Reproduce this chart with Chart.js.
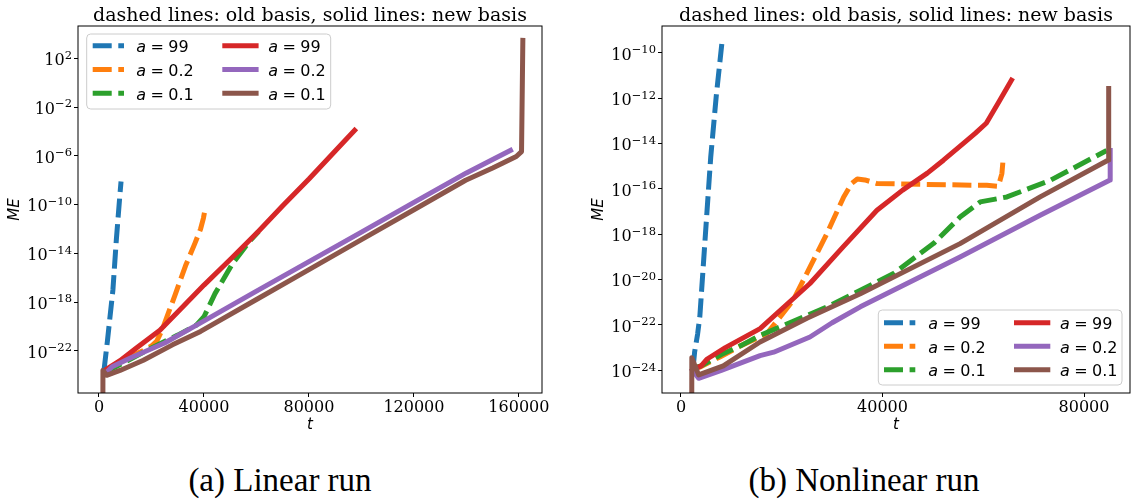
<!DOCTYPE html>
<html>
<head>
<meta charset="utf-8">
<script src="https://cdn.jsdelivr.net/npm/chart.js@4/dist/chart.umd.min.js"></script>
<style>
html,body{margin:0;padding:0;background:#fff;}
#wrap{position:relative;width:1134px;height:501px;overflow:hidden;background:#fff;}
#c1{position:absolute;left:0;top:0;}
#c2{position:absolute;left:560px;top:0;}
.cap{position:absolute;top:464px;font-family:"Liberation Serif",serif;font-size:33px;line-height:33px;white-space:nowrap;transform:translateX(-50%);color:#000;}
</style>
</head>
<body>
<div id="wrap">
<canvas id="c1" width="560" height="440"></canvas>
<canvas id="c2" width="574" height="440"></canvas>
<div class="cap" style="left:280px">(a) Linear run</div>
<div class="cap" style="left:864px">(b) Nonlinear run</div>
</div>
<script>
// ---------- shared text / labels ----------
const titleText = 'dashed lines: old basis, solid lines: new basis';
const aLabels = ['99', '0.2', '0.1'];
const colorsOld = ['#1f77b4', '#ff7f0e', '#2ca02c'];
const colorsNew = ['#d62728', '#9467bd', '#8c564b'];
const ZERO_LOG = -300; // ME = 0 at the first sample (drawn clipped below the axis)

// ---------- (a) Linear run : t values and log10(ME) ----------
const linTicksX = [0, 40000, 80000, 120000, 160000];
const linTicksYExp = [2, -2, -6, -10, -14, -18, -22];

const linOldA99T   = [1900, 3200, 5300, 6600, 8000, 8400];
const linOldA99Log = [-23.6, -21.2, -17.0, -12.9, -9.1, -8.1];

const linOldA02T   = [2000, 10000, 17000, 20000, 22000, 24000, 29000, 33000, 36500, 38700, 39800, 40400];
const linOldA02Log = [-23.7, -22.65, -21.95, -21.6, -21.2, -20.3, -17.4, -15.0, -13.2, -12.0, -11.1, -10.4];

const linOldA01T   = [2000, 10000, 20000, 30000, 37000, 40000, 44200, 51000, 57800, 60800];
const linOldA01Log = [-23.8, -22.9, -21.75, -20.7, -19.9, -19.2, -17.3, -14.8, -12.9, -12.2];

const linNewA99T   = [2900, 8000, 14000, 23200, 30000, 40000, 50000, 60700, 70000, 80000, 90000, 97400];
const linNewA99Log = [-23.5, -22.8, -21.8, -20.3, -18.8, -16.6, -14.5, -12.2, -10.1, -7.9, -5.6, -3.9];

const linNewA02T   = [2900, 5000, 12800, 25000, 38700, 60000, 80000, 100000, 120000, 140000, 150000, 156800];
const linNewA02Log = [-23.75, -23.3, -22.5, -21.35, -19.7, -17.1, -14.68, -12.25, -9.82, -7.4, -6.3, -5.55];

const linNewA01T   = [0, 1500, 2900, 8000, 16900, 28000, 38700, 60000, 80000, 100000, 120000, 139700, 150000, 159000, 161000, 161500];
const linNewA01Log = [ZERO_LOG, -23.6, -24.0, -23.6, -22.76, -21.5, -20.4, -17.78, -15.33, -12.87, -10.42, -8.0, -7.0, -6.05, -5.65, 3.47];

// ---------- (b) Nonlinear run : t values and log10(ME) ----------
const nlTicksX = [0, 40000, 80000];
const nlTicksYExp = [-10, -12, -14, -16, -18, -20, -22, -24];

const nlOldA99T   = [2400, 2700, 3300, 3750, 4850, 5900, 7000, 8100];
const nlOldA99Log = [-23.9, -23.2, -22.4, -21.6, -18.0, -14.6, -11.9, -9.6];

const nlOldA02T   = [2300, 3800, 7800, 12000, 17000, 22300, 25600, 29000, 32300, 33900, 35000, 36500, 38900, 48800, 60700, 63000, 63700, 63900];
const nlOldA02Log = [-23.9, -23.85, -23.4, -22.9, -22.4, -20.9, -19.45, -17.95, -16.35, -15.75, -15.56, -15.6, -15.76, -15.8, -15.84, -15.88, -15.32, -14.8];

const nlOldA01T   = [2300, 4000, 8000, 12000, 15700, 29000, 42200, 50100, 55400, 59400, 64700, 73300, 84500];
const nlOldA01Log = [-23.9, -23.8, -23.3, -22.9, -22.46, -21.2, -19.73, -18.41, -17.24, -16.57, -16.35, -15.62, -14.3];

const nlNewA99T   = [2300, 4000, 5200, 8800, 15700, 25600, 32000, 38900, 44000, 48900, 52100, 56000, 58400, 60600, 63000, 65600];
const nlNewA99Log = [-24.0, -23.8, -23.5, -23.0, -22.16, -20.17, -18.6, -16.94, -16.05, -15.3, -14.73, -14.0, -13.55, -13.1, -12.2, -11.2];

const nlNewA02T   = [2300, 3500, 8000, 15700, 18400, 25600, 30000, 35600, 55400, 71300, 85180, 85200];
const nlNewA02Log = [-24.0, -24.35, -24.0, -23.35, -23.2, -22.53, -21.9, -21.2, -19.0, -17.16, -15.6, -14.3];

const nlNewA01T   = [0, 2150, 3500, 8400, 15700, 25000, 35600, 55400, 71300, 84850, 84900];
const nlNewA01Log = [ZERO_LOG, -23.45, -24.2, -23.8, -22.75, -21.7, -20.62, -18.41, -16.35, -14.72, -11.57];

// ---------- helpers ----------
function pts(ts, logs) { return ts.map((t, i) => ({x: t, y: Math.pow(10, logs[i])})); }

function makeDatasets(oldSeries, newSeries) {
  const ds = [];
  oldSeries.forEach((s, i) => ds.push({
    label: 'a = ' + aLabels[i], data: pts(s[0], s[1]), borderColor: colorsOld[i],
    borderWidth: 5, borderDash: [19, 6.6], borderCapStyle: 'butt', borderJoinStyle: 'round'
  }));
  newSeries.forEach((s, i) => ds.push({
    label: 'a = ' + aLabels[i], data: pts(s[0], s[1]), borderColor: colorsNew[i],
    borderWidth: 5, borderDash: [], borderCapStyle: 'square', borderJoinStyle: 'round'
  }));
  ds.forEach((d, i) => {
    d.order = ds.length - i; d.pointRadius = 0; d.pointHoverRadius = 0;
    d.tension = 0; d.fill = false; d.clip = 0; d.backgroundColor = d.borderColor;
  });
  return ds;
}

function roundRect(ctx, x, y, w, h, r) {
  ctx.beginPath();
  ctx.moveTo(x + r, y);
  ctx.lineTo(x + w - r, y); ctx.quadraticCurveTo(x + w, y, x + w, y + r);
  ctx.lineTo(x + w, y + h - r); ctx.quadraticCurveTo(x + w, y + h, x + w - r, y + h);
  ctx.lineTo(x + r, y + h); ctx.quadraticCurveTo(x, y + h, x, y + h - r);
  ctx.lineTo(x, y + r); ctx.quadraticCurveTo(x, y, x + r, y);
  ctx.closePath();
}

function makeDecor(d) {
  return {
    id: 'mplDecor',
    afterDatasetsDraw(chart) {
      const ctx = chart.ctx, ca = chart.chartArea;
      ctx.save();
      ctx.setLineDash([]);
      // axes frame
      ctx.strokeStyle = '#000'; ctx.lineWidth = 1;
      ctx.strokeRect(ca.left, ca.top, ca.right - ca.left, ca.bottom - ca.top);
      // title
      ctx.fillStyle = '#000'; ctx.font = '19px "DejaVu Serif"';
      ctx.textAlign = 'center'; ctx.textBaseline = 'alphabetic';
      ctx.fillText(titleText, (ca.left + ca.right) / 2, 20.7);
      // y tick labels 10^n (mathtext-like superscript) placed by the y scale
      const ys = chart.scales.y;
      ctx.textAlign = 'left';
      ys.ticks.forEach(tk => {
        const py = ys.getPixelForValue(tk.value);
        const e = Math.round(Math.log10(tk.value));
        const expStr = (e < 0 ? '\u2212' : '') + Math.abs(e);
        ctx.font = '16px "DejaVu Serif"';
        const wb = ctx.measureText('10').width;
        ctx.font = '11.5px "DejaVu Serif"';
        const we = ctx.measureText(expStr).width;
        const xr = ca.left - 6;
        ctx.font = '16px "DejaVu Serif"';
        ctx.fillText('10', xr - we - wb, py + 6.8);
        ctx.font = '11.5px "DejaVu Serif"';
        ctx.fillText(expStr, xr - we, py + 0.2);
      });
      // legend
      const b = d.box;
      roundRect(ctx, b[0], b[1], b[2], b[3], 4);
      ctx.fillStyle = 'rgba(255,255,255,0.8)'; ctx.fill();
      ctx.strokeStyle = '#cccccc'; ctx.lineWidth = 1; ctx.stroke();
      chart.data.datasets.forEach((ds, i) => {
        const col = Math.floor(i / 3), row = i % 3;
        const y = d.rows[row], h = d.cols[col];
        ctx.beginPath(); ctx.moveTo(h[0], y); ctx.lineTo(h[1], y);
        ctx.strokeStyle = ds.borderColor; ctx.lineWidth = ds.borderWidth;
        ctx.setLineDash(ds.borderDash); ctx.lineCap = ds.borderCapStyle; ctx.stroke();
        ctx.setLineDash([]);
        const parts = ds.label.split(' = ');
        let x = h[2]; const by = y + 6.3;
        ctx.fillStyle = '#000'; ctx.textAlign = 'left';
        ctx.font = 'italic 16px "DejaVu Sans"';
        ctx.fillText(parts[0], x, by); x += ctx.measureText(parts[0]).width + 4.4;
        ctx.font = '16px "DejaVu Sans"';
        ctx.fillText('=', x, by); x += ctx.measureText('=').width + 4.4;
        ctx.fillText(parts[1], x, by);
      });
      ctx.restore();
    }
  };
}

function makeChart(id, o) {
  const gridCfg = {drawOnChartArea: false, drawTicks: true, tickLength: 4, tickColor: '#000', tickWidth: 1, color: '#000'};
  return new Chart(document.getElementById(id), {
    type: 'line',
    data: {datasets: o.datasets},
    options: {
      responsive: false, animation: false, devicePixelRatio: 1,
      layout: {padding: {top: 26, right: o.padRight, left: 0, bottom: 0}},
      plugins: {legend: {display: false}, tooltip: {enabled: false}, title: {display: false}},
      scales: {
        x: {
          type: 'linear', min: o.xMin, max: o.xMax,
          afterBuildTicks: s => { s.ticks = o.xTicks.map(v => ({value: v})); },
          afterFit: s => { s.height = 47; },
          grid: gridCfg, border: {display: false},
          ticks: {color: '#000', font: {family: 'DejaVu Serif', size: 16}, padding: 1, maxRotation: 0, autoSkip: false, callback: v => String(v)},
          title: {display: true, text: 't', color: '#000', font: {family: 'DejaVu Sans', style: 'italic', size: 15}, padding: {top: 0, bottom: 6}}
        },
        y: {
          type: 'logarithmic', min: Math.pow(10, o.yMinExp), max: Math.pow(10, o.yMaxExp),
          afterBuildTicks: s => { s.ticks = o.yTickExp.map(e => ({value: Math.pow(10, e)})); },
          afterFit: s => { s.width = o.yWidth; },
          grid: gridCfg, border: {display: false},
          ticks: {display: false},
          title: {display: true, text: 'ME', color: '#000', font: {family: 'DejaVu Sans', style: 'italic', size: 15}, padding: {top: o.yTitlePad, bottom: 0}}
        }
      }
    },
    plugins: [makeDecor(o.decor)]
  });
}

makeChart('c1', {
  datasets: makeDatasets(
    [[linOldA99T, linOldA99Log], [linOldA02T, linOldA02Log], [linOldA01T, linOldA01Log]],
    [[linNewA99T, linNewA99Log], [linNewA02T, linNewA02Log], [linNewA01T, linNewA01Log]]),
  xMin: -8000, xMax: 168800, xTicks: linTicksX,
  yMinExp: -25.45, yMaxExp: 4.65, yTickExp: linTicksYExp,
  yWidth: 78, padRight: 18, yTitlePad: 6,
  decor: {box: [86.7, 34, 244, 75], rows: [45.7, 69.5, 93.3],
          cols: [[92.7, 124, 136.3], [224.8, 256.1, 268.3]]}
});

makeChart('c2', {
  datasets: makeDatasets(
    [[nlOldA99T, nlOldA99Log], [nlOldA02T, nlOldA02Log], [nlOldA01T, nlOldA01Log]],
    [[nlNewA99T, nlNewA99Log], [nlNewA02T, nlNewA02Log], [nlNewA01T, nlNewA01Log]]),
  xMin: -3770, xMax: 89130, xTicks: nlTicksX,
  yMinExp: -25.0, yMaxExp: -8.81, yTickExp: nlTicksYExp,
  yWidth: 102, padRight: 4, yTitlePad: 30.6,
  decor: {box: [318.3, 310, 243.7, 75], rows: [322.7, 346.2, 369.7],
          cols: [[324, 355.3, 368.3], [456.5, 487.8, 500]]}
});
</script>
</body>
</html>
